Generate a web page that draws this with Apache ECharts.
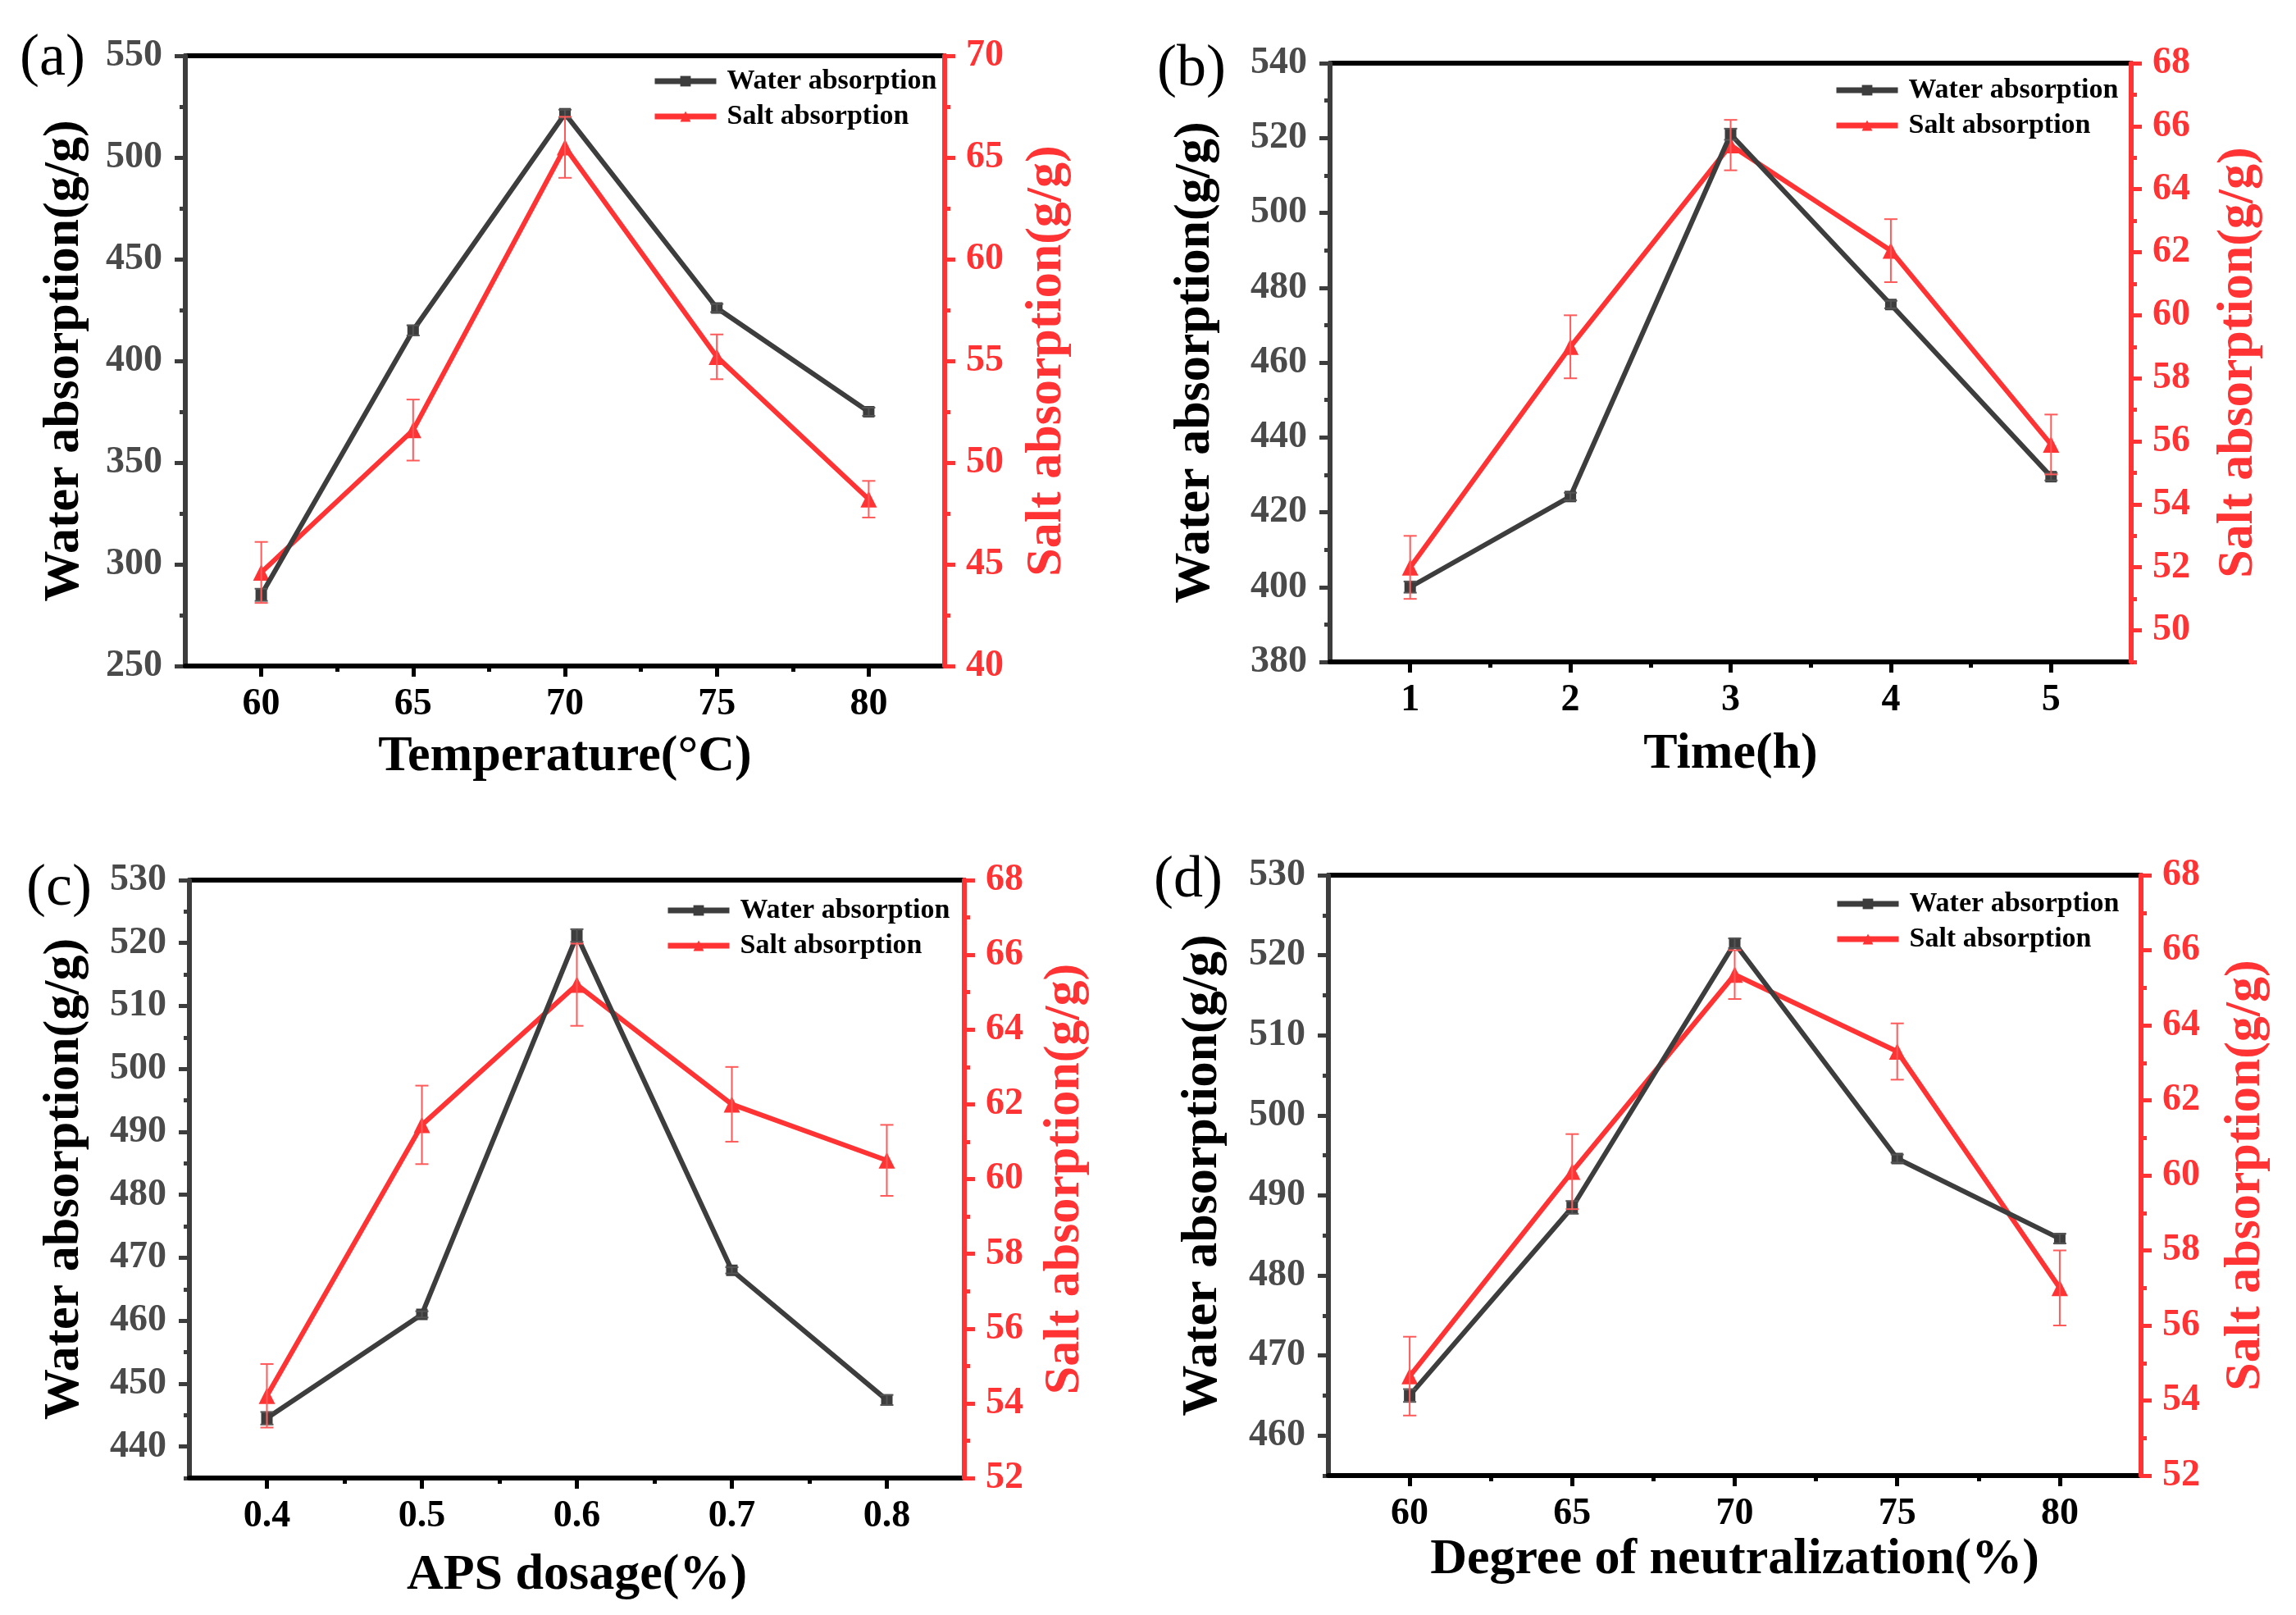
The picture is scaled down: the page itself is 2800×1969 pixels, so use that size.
<!DOCTYPE html>
<html>
<head>
<meta charset="utf-8">
<script src="https://cdn.jsdelivr.net/npm/echarts@6/dist/echarts.min.js"></script>
<style>
html, body { margin: 0; padding: 0; background: #fff; }
#chart { width: 2800px; height: 1969px; }
</style>
</head>
<body>
<div id="chart"></div>
<script>
// ---- data ----
var xTemp = [60, 65, 70, 75, 80];
var xTime = [1, 2, 3, 4, 5];
var xAps = [0.4, 0.5, 0.6, 0.7, 0.8];
var xNeut = [60, 65, 70, 75, 80];

var waterA = [285, 415, 521.5, 426, 375];
var waterErrA = [3, 2.5, 2, 2, 2];
var saltA = [44.6, 51.6, 65.5, 55.2, 48.2];
var saltErrA = [1.5, 1.5, 1.5, 1.1, 0.9];

var waterB = [400, 424.2, 521, 475.5, 429.5];
var waterErrB = [1.5, 1, 1.5, 1, 1];
var saltB = [52.0, 59.0, 65.4, 62.05, 55.9];
var saltErrB = [1.0, 1.0, 0.8, 1.0, 0.95];

var waterC = [444.5, 461, 521.2, 468, 447.4];
var waterErrC = [1, 0.5, 1, 0.5, 0.8];
var saltC = [54.2, 61.45, 65.2, 62.0, 60.5];
var saltErrC = [0.85, 1.05, 1.1, 1.0, 0.95];

var waterD = [465, 488.5, 521.5, 494.6, 484.6];
var waterErrD = [0.8, 0.8, 0.6, 0.5, 0.6];
var saltD = [54.65, 60.1, 65.35, 63.3, 57.0];
var saltErrD = [1.05, 1.0, 0.65, 0.75, 1.0];

// ---- tick values ----
var xTicksTemp = [60, 65, 70, 75, 80];
var xMinorTemp = [62.5, 67.5, 72.5, 77.5];
var xTicksTime = [1, 2, 3, 4, 5];
var xMinorTime = [1.5, 2.5, 3.5, 4.5];
var xTicksAps = [0.4, 0.5, 0.6, 0.7, 0.8];
var xMinorAps = [0.45, 0.55, 0.65, 0.75];

var leftTicksA = [250, 300, 350, 400, 450, 500, 550];
var leftMinorA = [275, 325, 375, 425, 475, 525];
var rightTicksA = [40, 45, 50, 55, 60, 65, 70];
var rightMinorA = [42.5, 47.5, 52.5, 57.5, 62.5, 67.5];

var leftTicksB = [380, 400, 420, 440, 460, 480, 500, 520, 540];
var leftMinorB = [390, 410, 430, 450, 470, 490, 510, 530];
var rightTicksB = [50, 52, 54, 56, 58, 60, 62, 64, 66, 68];
var rightMinorB = [49, 51, 53, 55, 57, 59, 61, 63, 65, 67];

var leftTicksC = [440, 450, 460, 470, 480, 490, 500, 510, 520, 530];
var leftMinorC = [435, 445, 455, 465, 475, 485, 495, 505, 515, 525];
var rightTicks52 = [52, 54, 56, 58, 60, 62, 64, 66, 68];
var rightMinor52 = [53, 55, 57, 59, 61, 63, 65, 67];

var leftTicksD = [460, 470, 480, 490, 500, 510, 520, 530];
var leftMinorD = [455, 465, 475, 485, 495, 505, 515, 525];

var WATER = 'Water absorption';
var SALT = 'Salt absorption';
var WATER_TITLE = 'Water absorption(g/g)';
var SALT_TITLE = 'Salt absorption(g/g)';

var SERIF = "'Liberation Serif', 'Times New Roman', serif";
var GRAY = '#3d3d3d';
var RED = '#ff3333';

var panels = [
    {
        label: '(a)', labelPos: [24, 72],
        grid: { left: 226, top: 68, width: 926, height: 744 },
        legend: { left: 790, top: 77 },
        x: xTemp, xMin: 57.5, xMax: 82.5, xTicks: xTicksTemp, xMinor: xMinorTemp,
        xName: 'Temperature(\u00B0C)', xGap: 80,
        yL: [250, 550], yLTicks: leftTicksA, yLMinor: leftMinorA, yLGap: 116,
        yR: [40, 70], yRTicks: rightTicksA, yRMinor: rightMinorA, yRGap: 94,
        water: waterA, waterErr: waterErrA, salt: saltA, saltErr: saltErrA
    },
    {
        label: '(b)', labelPos: [1411, 85],
        grid: { left: 1622, top: 77, width: 977, height: 730 },
        legend: { left: 2231, top: 88 },
        x: xTime, xMin: 0.5, xMax: 5.5, xTicks: xTicksTime, xMinor: xMinorTime,
        xName: 'Time(h)', xGap: 82,
        yL: [380, 540], yLTicks: leftTicksB, yLMinor: leftMinorB, yLGap: 133,
        yR: [49, 68], yRTicks: rightTicksB, yRMinor: rightMinorB, yRGap: 100,
        water: waterB, waterErr: waterErrB, salt: saltB, saltErr: saltErrB
    },
    {
        label: '(c)', labelPos: [32, 1084],
        grid: { left: 231, top: 1073, width: 945, height: 729 },
        legend: { left: 806, top: 1088 },
        x: xAps, xMin: 0.35, xMax: 0.85, xTicks: xTicksAps, xMinor: xMinorAps,
        xName: 'APS dosage(%)', xGap: 88,
        yL: [435, 530], yLTicks: leftTicksC, yLMinor: leftMinorC, yLGap: 121,
        yR: [52, 68], yRTicks: rightTicks52, yRMinor: rightMinor52, yRGap: 92,
        water: waterC, waterErr: waterErrC, salt: saltC, saltErr: saltErrC
    },
    {
        label: '(d)', labelPos: [1407, 1074],
        grid: { left: 1620, top: 1067, width: 991, height: 732 },
        legend: { left: 2232, top: 1080 },
        x: xNeut, xMin: 57.5, xMax: 82.5, xTicks: xTicksTemp, xMinor: xMinorTemp,
        xName: 'Degree of neutralization(%)', xGap: 72,
        yL: [455, 530], yLTicks: leftTicksD, yLMinor: leftMinorD, yLGap: 122,
        yR: [52, 68], yRTicks: rightTicks52, yRMinor: rightMinor52, yRGap: 97,
        water: waterD, waterErr: waterErrD, salt: saltD, saltErr: saltErrD
    }
];

function pairs(xs, ys) {
    var out = [];
    for (var i = 0; i < xs.length; i++) {
        out.push([xs[i], ys[i]]);
    }
    return out;
}

function errRows(xs, ys, es) {
    var out = [];
    for (var i = 0; i < xs.length; i++) {
        out.push([xs[i], ys[i] - es[i], ys[i] + es[i]]);
    }
    return out;
}

function errorBars(color, cap) {
    return function (params, api) {
        var x = api.value(0);
        var lo = api.coord([x, api.value(1)]);
        var hi = api.coord([x, api.value(2)]);
        var style = { stroke: color, lineWidth: 2 };
        return {
            type: 'group',
            children: [
                { type: 'line', shape: { x1: hi[0], y1: hi[1], x2: lo[0], y2: lo[1] }, style: style },
                { type: 'line', shape: { x1: hi[0] - cap, y1: hi[1], x2: hi[0] + cap, y2: hi[1] }, style: style },
                { type: 'line', shape: { x1: lo[0] - cap, y1: lo[1], x2: lo[0] + cap, y2: lo[1] }, style: style }
            ]
        };
    };
}

var grids = [], xAxes = [], yAxes = [], series = [], legends = [], graphics = [];

panels.forEach(function (p, i) {
    grids.push({ left: p.grid.left, top: p.grid.top, width: p.grid.width, height: p.grid.height });

    // bottom axis with labels and major ticks
    xAxes.push({
        type: 'value', gridIndex: i, position: 'bottom', min: p.xMin, max: p.xMax, z: 4,
        axisLine: { show: true, onZero: false, lineStyle: { color: '#000', width: 6 } },
        axisTick: { show: true, customValues: p.xTicks, length: 13, lineStyle: { color: '#000', width: 5 } },
        axisLabel: { customValues: p.xTicks, margin: 24, color: '#000', fontSize: 46, fontWeight: 'bold', fontFamily: SERIF },
        splitLine: { show: false },
        name: p.xName, nameLocation: 'middle', nameGap: p.xGap,
        nameTextStyle: { fontSize: 62, fontWeight: 'bold', fontFamily: SERIF, color: '#000' }
    });
    // minor ticks on the bottom axis
    xAxes.push({
        type: 'value', gridIndex: i, position: 'bottom', min: p.xMin, max: p.xMax,
        axisLine: { show: false, onZero: false },
        axisTick: { show: true, customValues: p.xMinor, length: 7, lineStyle: { color: '#000', width: 5 } },
        axisLabel: { show: false }, splitLine: { show: false }
    });
    // frame line on top
    xAxes.push({
        type: 'value', gridIndex: i, position: 'top', min: p.xMin, max: p.xMax,
        axisLine: { show: true, onZero: false, lineStyle: { color: '#000', width: 6 } },
        axisTick: { show: false }, axisLabel: { show: false }, splitLine: { show: false }
    });

    yAxes.push({
        type: 'value', gridIndex: i, position: 'left', min: p.yL[0], max: p.yL[1], z: 3,
        axisLine: { show: true, onZero: false, lineStyle: { color: GRAY, width: 6 } },
        axisTick: { show: true, customValues: p.yLTicks, length: 13, lineStyle: { color: GRAY, width: 5 } },
        axisLabel: { customValues: p.yLTicks, margin: 28, color: '#4a4a4a', fontSize: 46, fontWeight: 'bold', fontFamily: SERIF },
        splitLine: { show: false },
        name: WATER_TITLE, nameLocation: 'middle', nameRotate: 90, nameGap: p.yLGap,
        nameTextStyle: { fontSize: 62, fontWeight: 'bold', fontFamily: SERIF, color: '#000' }
    });
    yAxes.push({
        type: 'value', gridIndex: i, position: 'right', min: p.yR[0], max: p.yR[1], z: 5,
        axisLine: { show: true, onZero: false, lineStyle: { color: RED, width: 6 } },
        axisTick: { show: true, customValues: p.yRTicks, length: 13, lineStyle: { color: RED, width: 5 } },
        axisLabel: { customValues: p.yRTicks, margin: 26, color: RED, fontSize: 46, fontWeight: 'bold', fontFamily: SERIF },
        splitLine: { show: false },
        name: SALT_TITLE, nameLocation: 'middle', nameRotate: 90, nameGap: p.yRGap,
        nameTextStyle: { fontSize: 62, fontWeight: 'bold', fontFamily: SERIF, color: RED }
    });
    yAxes.push({
        type: 'value', gridIndex: i, position: 'left', min: p.yL[0], max: p.yL[1],
        axisLine: { show: false, onZero: false },
        axisTick: { show: true, customValues: p.yLMinor, length: 7, lineStyle: { color: GRAY, width: 5 } },
        axisLabel: { show: false }, splitLine: { show: false }
    });
    yAxes.push({
        type: 'value', gridIndex: i, position: 'right', min: p.yR[0], max: p.yR[1],
        axisLine: { show: false, onZero: false },
        axisTick: { show: true, customValues: p.yRMinor, length: 7, lineStyle: { color: RED, width: 5 } },
        axisLabel: { show: false }, splitLine: { show: false }
    });

    var xi = i * 3, yl = i * 4, yr = i * 4 + 1;

    series.push({
        name: SALT, type: 'line', xAxisIndex: xi, yAxisIndex: yr, z: 3,
        data: pairs(p.x, p.salt),
        symbol: 'triangle', symbolSize: 20,
        lineStyle: { color: RED, width: 6 }, itemStyle: { color: RED }
    });
    series.push({
        name: WATER, type: 'line', xAxisIndex: xi, yAxisIndex: yl, z: 4,
        data: pairs(p.x, p.water),
        symbol: 'rect', symbolSize: 14,
        lineStyle: { color: GRAY, width: 6 }, itemStyle: { color: GRAY }
    });
    series.push({
        type: 'custom', xAxisIndex: xi, yAxisIndex: yl, z: 5,
        data: errRows(p.x, p.water, p.waterErr),
        encode: { x: 0, y: [1, 2] },
        renderItem: errorBars('#555', 8)
    });
    series.push({
        type: 'custom', xAxisIndex: xi, yAxisIndex: yr, z: 6,
        data: errRows(p.x, p.salt, p.saltErr),
        encode: { x: 0, y: [1, 2] },
        renderItem: errorBars('#ff5a5a', 8)
    });

    legends.push({
        orient: 'vertical', left: p.legend.left, top: p.legend.top,
        itemWidth: 75, itemHeight: 16, itemGap: 9,
        data: [WATER, SALT],
        lineStyle: { width: 7 },
        textStyle: { fontSize: 34, fontWeight: 'bold', fontFamily: SERIF, color: '#000', lineHeight: 34, padding: [0, 0, 0, 8] }
    });

    graphics.push({
        type: 'text', x: p.labelPos[0], y: p.labelPos[1],
        style: { text: p.label, fontSize: 72, fontFamily: SERIF, fill: '#000', textVerticalAlign: 'middle', textAlign: 'left' }
    });
});

var option = {
    backgroundColor: '#fff',
    animation: false,
    grid: grids,
    xAxis: xAxes,
    yAxis: yAxes,
    legend: legends,
    series: series,
    graphic: graphics
};

var myChart = echarts.init(document.getElementById('chart'));
myChart.setOption(option);
</script>
</body>
</html>
